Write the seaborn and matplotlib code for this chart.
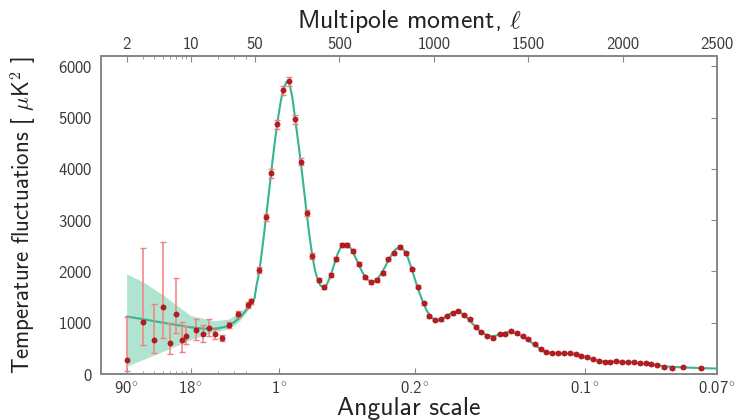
import numpy as np
import matplotlib
matplotlib.use('Agg')
import matplotlib.pyplot as plt
import seaborn as sns

# low-ell points (individual / coarse bins) with asymmetric error bars
ell_low = [2, 3, 4, 5, 6, 7, 8, 9, 11.5, 13.5, 15.7, 18.5, 22.3, 26.5, 33.3, 42.8, 45.5]
dl_low = [280, 1019, 662, 1299, 610, 1169, 662, 740, 857, 773, 902, 773, 695, 955, 1169, 1344, 1422]
dl_low_top = [1116, 2448, 1364, 2578, 1000, 1864, 1019, 935, 1065, 955, 1065, 871, 760, 1010, 1220, 1400, 1470]
dl_low_bot = [60, 565, 403, 695, 390, 793, 435, 584, 662, 630, 740, 676, 640, 900, 1120, 1290, 1370]

# high-ell binned points
ell_high = [76, 111, 138, 169, 200, 231, 265, 295, 326, 357, 389, 420, 453, 482, 512, 541,
            570, 605, 635, 665, 697, 729, 758, 788, 820, 852, 882, 914, 947, 975, 1005, 1037,
            1067, 1099, 1129, 1160, 1190, 1222, 1252, 1282, 1314, 1348, 1378, 1409, 1440, 1470,
            1501, 1534, 1565, 1596, 1626, 1658, 1688, 1720, 1751, 1781, 1811, 1843, 1875, 1905,
            1935, 1967, 1998, 2028, 2060, 2090, 2122, 2152, 2181, 2217, 2263, 2319, 2416]
dl_high = [2026, 3053, 3910, 4870, 5533, 5708, 4962, 4136, 3143, 2300, 1830, 1700, 1929, 2234,
           2513, 2513, 2402, 2137, 1884, 1798, 1831, 1974, 2234, 2351, 2480, 2351, 2040, 1701,
           1377, 1130, 1052, 1066, 1130, 1182, 1227, 1149, 1066, 922, 812, 746, 707, 773, 773,
           840, 793, 743, 679, 579, 487, 434, 403, 403, 403, 403, 390, 357, 325, 286, 253, 240,
           240, 253, 240, 240, 228, 220, 208, 195, 175, 142, 111, 131, 111]
err_high = [60, 70, 80, 90, 90, 90, 80, 70, 60, 50, 40, 40, 40, 40, 40, 40,
            40, 40, 35, 35, 35, 35, 35, 35, 35, 35, 30, 30, 30, 30, 25, 25,
            25, 25, 25, 25, 25, 25, 20, 20, 20, 20, 20, 20, 20, 20,
            20, 20, 20, 20, 20, 20, 20, 20, 20, 20, 20, 20, 20, 20,
            20, 20, 20, 20, 20, 20, 20, 20, 20, 20, 20, 20, 20]

# best-fit model curve
ell_model = [2, 3, 5, 8, 10, 13, 16, 20, 25, 30, 35, 40, 45, 50, 60, 70, 80, 90, 100, 115,
             130, 145, 160, 175, 190, 205, 220, 235, 250, 265, 280, 295, 310, 325, 340, 355,
             370, 385, 400, 415, 430, 445, 460, 475, 490, 505, 520, 535, 550, 565, 580, 600,
             620, 640, 660, 680, 700, 720, 740, 760, 780, 800, 820, 840, 860, 880, 900, 920,
             940, 960, 980, 1000, 1020, 1040, 1060, 1080, 1100, 1120, 1140, 1160, 1180, 1200,
             1220, 1240, 1260, 1280, 1300, 1320, 1340, 1360, 1380, 1400, 1420, 1440, 1460, 1480,
             1500, 1530, 1560, 1590, 1620, 1650, 1680, 1710, 1740, 1770, 1800, 1830, 1860, 1890,
             1920, 1950, 1980, 2010, 2040, 2070, 2100, 2130, 2160, 2190, 2220, 2260, 2300, 2350,
             2400, 2450, 2500]
dl_model = [1120, 1070, 1000, 940, 910, 890, 880, 890, 930, 1010, 1110, 1230, 1360, 1480, 1720,
            1900, 2130, 2420, 2720, 3180, 3660, 4150, 4600, 5000, 5340, 5580, 5700, 5660, 5400,
            4980, 4560, 4130, 3650, 3170, 2720, 2330, 2030, 1830, 1720, 1690, 1730, 1840, 2000,
            2170, 2340, 2460, 2530, 2540, 2500, 2420, 2310, 2150, 1990, 1870, 1810, 1800, 1850,
            1950, 2080, 2220, 2350, 2440, 2470, 2420, 2290, 2080, 1840, 1620, 1420, 1250, 1130,
            1070, 1050, 1070, 1110, 1160, 1200, 1220, 1200, 1150, 1080, 1000, 920, 850, 800, 760,
            740, 740, 760, 790, 810, 820, 810, 790, 750, 710, 660, 580, 500, 440, 410, 400, 400,
            400, 390, 370, 335, 300, 270, 250, 240, 240, 240, 235, 228, 218, 205, 192, 178, 163,
            150, 140, 132, 124, 118, 112, 106]

# cosmic variance band at low ell
ell_band = [2, 3, 5, 10, 18, 26, 33, 43, 50, 60]
band_top = [1950, 1800, 1540, 1140, 1040, 1070, 1190, 1340, 1530, 1740]
band_bot = [150, 280, 440, 670, 820, 880, 1000, 1260, 1430, 1680]

# axis ticks
ell_ticks = [2, 10, 50, 500, 1000, 1500, 2000, 2500]
ell_labels = ['2', '10', '50', '500', '1000', '1500', '2000', '2500']
ell_minor = [3, 4, 5, 6, 7, 8, 9, 20, 30, 40]
ang_ticks = [2, 10, 180, 900, 1800, 2500]
ang_labels = [r'90$^{\circ}$', r'18$^{\circ}$', r'1$^{\circ}$', r'0.2$^{\circ}$',
              r'0.1$^{\circ}$', r'0.07$^{\circ}$']
y_ticks = [0, 1000, 2000, 3000, 4000, 5000, 6000]

LOG_WIDTH = 484.7  # linear-ell units per decade below ell = 50


def fwd(ell):
    ell = np.asarray(ell, dtype=float)
    safe = np.clip(ell, 1e-3, None)
    return np.where(ell >= 50, ell, 50 + LOG_WIDTH * np.log10(safe / 50))


def inv(t):
    t = np.asarray(t, dtype=float)
    return np.where(t >= 50, t, 50 * 10 ** ((np.minimum(t, 50) - 50) / LOG_WIDTH))


sns.set_style('white')
plt.rcParams['font.family'] = ['cmss10', 'DejaVu Sans']
plt.rcParams['mathtext.fontset'] = 'cm'
plt.rcParams['axes.unicode_minus'] = False
plt.rcParams['axes.formatter.use_mathtext'] = True

fig = plt.figure(figsize=(7.39, 4.2), dpi=100)
ax = fig.add_axes([0.1367, 0.1095, 0.8336, 0.7572])
ax.set_xscale('function', functions=(fwd, inv))

green = '#36b58e'
band_col = '#a3e0c8'
pt_col = '#c0181e'
err_col = '#f47f7f'

ax.fill_between(ell_band, band_bot, band_top, color=band_col, lw=0, alpha=0.85, zorder=1)
sns.lineplot(x=ell_model, y=dl_model, ax=ax, color=green, lw=1.5, zorder=2)

low_err = [np.array(dl_low) - np.array(dl_low_bot), np.array(dl_low_top) - np.array(dl_low)]
ax.errorbar(ell_low, dl_low, yerr=low_err, fmt='none', ecolor=err_col, elinewidth=1.1,
            capsize=2.5, capthick=1.0, zorder=3)
ax.errorbar(ell_high, dl_high, yerr=err_high, fmt='none', ecolor=err_col, elinewidth=1.0,
            capsize=2.2, capthick=1.0, zorder=3)
sns.scatterplot(x=ell_low + ell_high, y=dl_low + dl_high, ax=ax, color=pt_col, s=14,
                edgecolor='#8a1010', linewidth=0.4, zorder=4)

ax.set_xlim(1.05, 2500)
ax.set_ylim(0, 6200)

spine_col = '#888888'
text_col = '#3a3a3a'

ax.set_yticks(y_ticks)
ax.set_xticks(ang_ticks)
ax.set_xticklabels(ang_labels)
ax.set_xticks(ell_minor, minor=True)
ax.tick_params(axis='both', which='both', direction='in', colors=spine_col,
               labelcolor=text_col, labelsize=12)
ax.tick_params(axis='y', right=True, pad=6, length=4)
ax.tick_params(axis='x', which='major', length=4, pad=4)
ax.tick_params(axis='x', which='minor', length=2.5)
ax.set_xlabel('Angular scale', fontsize=18.5, color='#222222', labelpad=1)
ax.set_ylabel(r'Temperature fluctuations [ $\mu$K$^2$ ]', fontsize=16.5, color='#222222',
              labelpad=14)

ax2 = ax.twiny()
ax2.set_xscale('function', functions=(fwd, inv))
ax2.set_xlim(ax.get_xlim())
ax2.set_xticks(ell_ticks)
ax2.set_xticklabels(ell_labels)
ax2.set_xticks(ell_minor, minor=True)
ax2.tick_params(axis='x', which='both', direction='in', colors=spine_col,
                labelcolor=text_col, labelsize=12)
ax2.tick_params(axis='x', which='major', length=4, pad=3)
ax2.tick_params(axis='x', which='minor', length=2.5)
ax2.set_xlabel(r'Multipole moment, $\ell$', fontsize=18.5, color='#222222', labelpad=6)

for a in (ax, ax2):
    for sp in a.spines.values():
        sp.set_color(spine_col)
        sp.set_linewidth(1.4)

fig.savefig('out.png', dpi=100)
